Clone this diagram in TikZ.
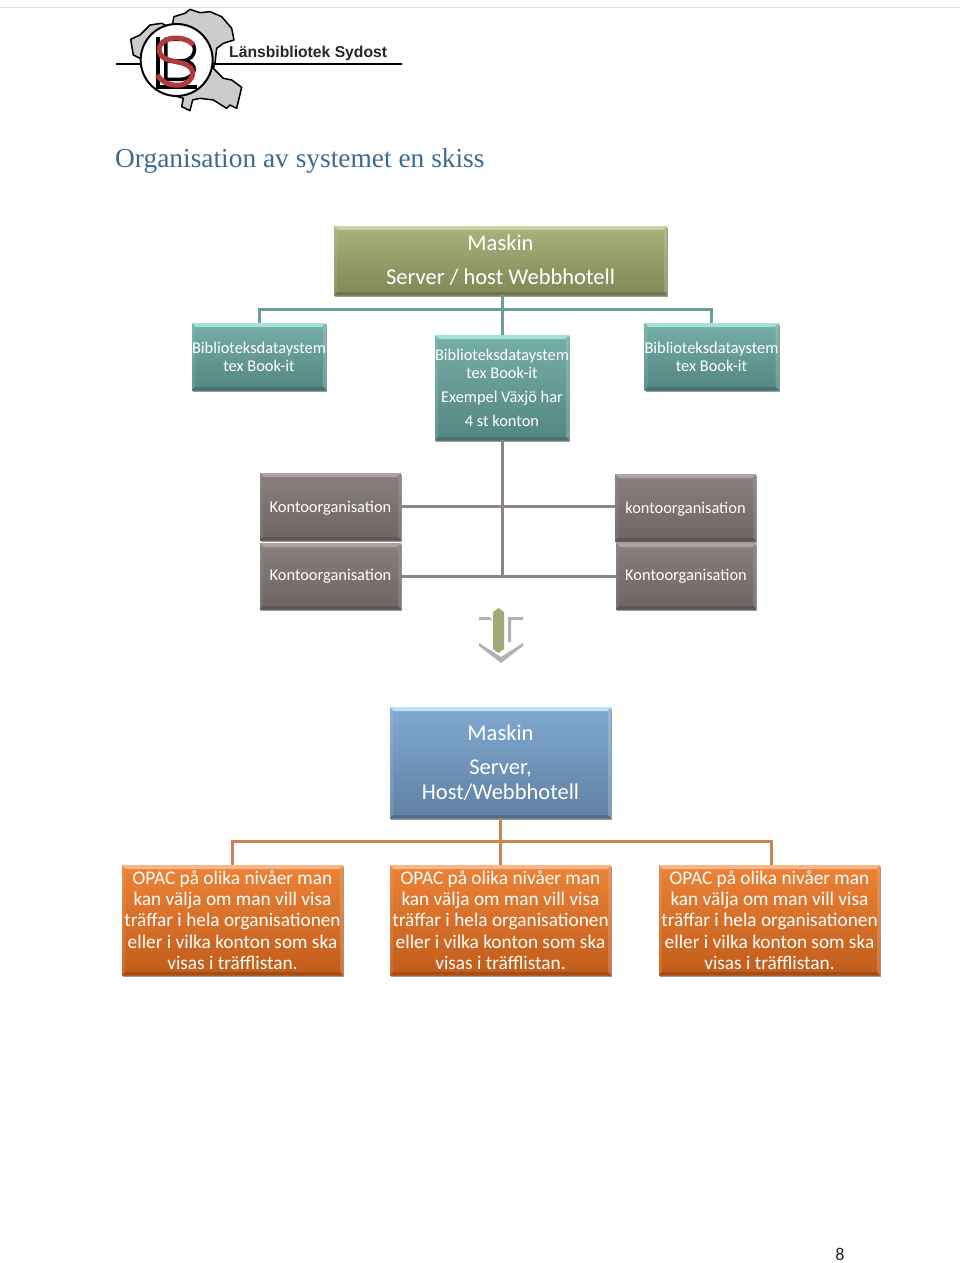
\documentclass[tikz,border=0pt]{standalone}
\usepackage{fontspec}
\setmainfont{Carlito}
\newfontfamily\titlefont{Liberation Serif}
\newfontfamily\logofont{Liberation Sans}
\usetikzlibrary{calc,shadows}
\definecolor{olT}{HTML}{A9B37C}\definecolor{olB}{HTML}{7F8856}\definecolor{olL}{HTML}{CBD2A6}
\definecolor{teT}{HTML}{76AFA7}\definecolor{teB}{HTML}{538680}\definecolor{teL}{HTML}{A3E0D6}
\definecolor{grT}{HTML}{8A7F7F}\definecolor{grB}{HTML}{6F6464}\definecolor{grL}{HTML}{ADA3A3}
\definecolor{blT}{HTML}{80AAD2}\definecolor{blB}{HTML}{5F80A2}\definecolor{blL}{HTML}{BDE2F8}
\definecolor{orT}{HTML}{EC8338}\definecolor{orB}{HTML}{C05C1A}\definecolor{orL}{HTML}{F9B688}
\definecolor{titleblue}{HTML}{3F6A8F}
\definecolor{teLine}{HTML}{6F9C97}\definecolor{grLine}{HTML}{8E8484}\definecolor{orLine}{HTML}{CC8457}
\definecolor{logored}{HTML}{B23A3A}
\tikzset{
  bev/.style n args={5}{draw=none,inner sep=0pt,align=center,text=white,
    minimum width=#4,minimum height=#5,
    top color=#1,bottom color=#2,
    drop shadow={shadow xshift=1pt,shadow yshift=-2pt,opacity=.4,fill=black},
    path picture={
      \coordinate (NW) at (path picture bounding box.north west);
      \coordinate (SE) at (path picture bounding box.south east);
      \coordinate (NE) at (path picture bounding box.north east);
      \coordinate (SW) at (path picture bounding box.south west);
      \fill[#3] (NW)--(NE)--($(NE)+(-4pt,-4pt)$)--($(NW)+(4pt,-4pt)$)--cycle;
      \fill[#3,opacity=.3] (NE)--(SE)--($(SE)+(-3pt,3pt)$)--($(NE)+(-3pt,-3pt)$)--cycle;
      \fill[#3,opacity=.18] (NW)--(SW)--($(SW)+(3pt,3pt)$)--($(NW)+(3pt,-3pt)$)--cycle;
      \fill[#2!85!black] (SW)--(SE)--($(SE)+(-3pt,3pt)$)--($(SW)+(3pt,3pt)$)--cycle;
    }},
  fsBig/.style={font=\fontsize{22.5}{25}\selectfont},
  fsMid/.style={font=\fontsize{16.4}{18}\selectfont},
  fsKon/.style={font=\fontsize{16.4}{18}\selectfont},
  fsOr/.style={font=\fontsize{19.3}{21.3}\selectfont},
  conn/.style={line width=3pt},
}
\newcommand\dnText[1]{\raisebox{-2pt}[\height][\depth]{#1}}
\begin{document}
\begin{tikzpicture}[x=1pt,y=-1pt]
\useasboundingbox (0,0) rectangle (960,1263);
\fill[white] (0,0) rectangle (960,1263);
\draw[black!12,line width=1pt] (0,8) -- (960,8);
% logo
\begin{scope}[shift={(100,0)},x=0.3333pt,y=-0.3333pt]
  \filldraw[fill=black!20,draw=black,line width=1.5pt,line join=round]
    (92,118)--(120,105)--(150,75)--(185,70)--(215,85)--(222,50)--(255,40)--(270,28)--(300,38)--(330,35)--(365,50)--(395,85)--(402,120)--(370,130)--(350,145)--(345,190)--(340,205)--(370,235)--(395,240)--(425,262)--(410,325)--(390,315)--(380,325)--(340,300)--(300,295)--(278,300)--(270,332)--(245,320)--(250,295)--(200,280)--(130,180)--(100,165)--cycle;
  \draw[black,line width=2.5pt] (48,192)--(905,192);
  \filldraw[fill=white,draw=black,line width=2pt] (230,180) circle (108);
  \draw[black,line width=4pt] (174,110)--(174,260)--(290,260);
  \draw[black,line width=3.5pt] (198,118)--(250,118) .. controls (295,118) and (295,180) .. (248,182) .. controls (300,185) and (290,238) .. (240,238)--(198,238)--cycle;
  \draw[black,line width=3.5pt] (198,183)--(248,183);
  \draw[logored,line width=5pt] (280,135) .. controls (250,100) and (170,110) .. (178,155) .. controls (185,195) and (270,175) .. (278,215) .. controls (280,265) and (200,270) .. (172,225);
\end{scope}
\node[font=\logofont\bfseries\fontsize{15.7}{18}\selectfont,text=black!85,anchor=west,inner sep=0pt] (logotext) at (229,53) {Länsbibliotek Sydost};
% title
\node[anchor=west,inner sep=0pt,text=titleblue,font=\titlefont\fontsize{27.4}{28}\selectfont] (title) at (115,161) {Organisation av systemet en skiss};
% top
\node[bev={olT}{olB}{olL}{333pt}{69pt},fsBig] (m1) at (500.5,260.5) {\dnText{\begin{tabular}{@{}c@{}}Maskin\\[9pt]Server / host Webbhotell\end{tabular}}};
\node[bev={teT}{teB}{teL}{134pt}{67pt},fsMid] (bl) at (259,356.5) {Biblioteksdataystem\\tex Book-it};
\node[bev={teT}{teB}{teL}{134pt}{105pt},fsMid] (bm) at (502,387.5) {Biblioteksdataystem\\tex Book-it\\[6pt]Exempel Växjö har\\[6pt]4 st konton};
\node[bev={teT}{teB}{teL}{134pt}{67pt},fsMid] (br) at (711.5,356.5) {Biblioteksdataystem\\tex Book-it};
% konto
\node[bev={grT}{grB}{grL}{141pt}{67pt},fsKon] (k1) at (330.5,506.5) {\dnText{Kontoorganisation}};
\node[bev={grT}{grB}{grL}{141pt}{67pt},fsKon] (k2) at (685.5,507.5) {\dnText{kontoorganisation}};
\node[bev={grT}{grB}{grL}{141pt}{66pt},fsKon] (k3) at (330.5,576) {Kontoorganisation};
\node[bev={grT}{grB}{grL}{140pt}{66pt},fsKon] (k4) at (686,576) {Kontoorganisation};
% double arrow
\fill[black!30] (479,620)--(479,617)--(490,617)--(492,620)--cycle;
\fill[black!30] (508,617)--(523,617)--(523,620)--(511,620)--(511,642)--(508,642)--cycle;
\fill[black!30] (479,643)--(501,657)--(523,643)--(523,646)--(501,663)--(479,646)--cycle;
\fill[olT!95!black] (493,612)--(498.5,608)--(504,612)--(504,649)--(498.5,653)--(493,649)--cycle;
% blue
\node[bev={blT}{blB}{blL}{221pt}{111pt},fsBig] (m2) at (500.5,762.5) {Maskin\\[9pt]Server,\\Host/Webbhotell};
% orange
\node[bev={orT}{orB}{orL}{221pt}{110pt},fsOr] (o1) at (232.5,920) {OPAC på olika nivåer man\\kan välja om man vill visa\\träffar i hela organisationen\\eller i vilka konton som ska\\visas i träfflistan.};
\node[bev={orT}{orB}{orL}{221pt}{110pt},fsOr] (o2) at (500.5,920) {OPAC på olika nivåer man\\kan välja om man vill visa\\träffar i hela organisationen\\eller i vilka konton som ska\\visas i träfflistan.};
\node[bev={orT}{orB}{orL}{221pt}{110pt},fsOr] (o3) at (769.5,920) {OPAC på olika nivåer man\\kan välja om man vill visa\\träffar i hela organisationen\\eller i vilka konton som ska\\visas i träfflistan.};
% connector bus points
\coordinate (busA) at (502,309);
\coordinate (busGB) at (502,575.5);
\coordinate (busO) at (501,841);
% connectors
\draw[conn,teLine] (bl.north) |- (busA) -| (br.north);
\draw[conn,teLine] (m1.south -| busA) -- (bm.north);
\draw[conn,grLine] (bm.south) -- (busGB);
\draw[conn,grLine] (k1.east) -- (k2.west |- k1.east);
\draw[conn,grLine] (k3.west -| k3.east) -- (k4.west);
\draw[conn,orLine] (o1.north) |- (busO) -| ([xshift=1.5pt]o3.north);
\draw[conn,orLine] (m2.south) -- (o2.north);
% page no
\node[inner sep=0pt,font=\fontsize{18}{20}\selectfont,text=black!85] (pg) at (840,1254) {8};
\end{tikzpicture}
\end{document}
